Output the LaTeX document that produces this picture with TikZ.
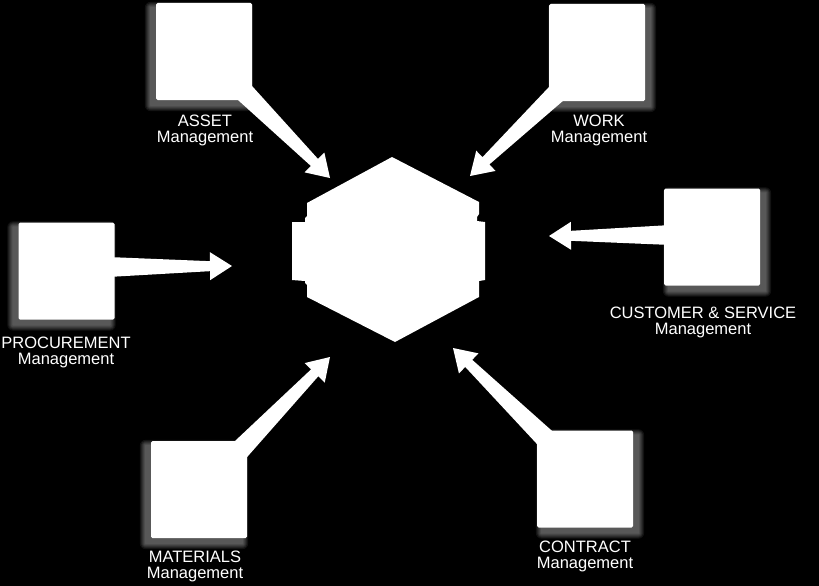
\documentclass[tikz,border=0pt]{standalone}
\usepackage{fontspec}
\setmainfont{Liberation Sans}
\usetikzlibrary{calc,positioning}

% tapered feed arrow from a foot coordinate to a tip coordinate
\newcommand{\flowarrow}[2]{%
  \fill[flow] ($(#1)!10pt!90:(#2)$)
    -- ($(#2)!22pt!(#1)!5pt!90:(#2)$)
    -- ($(#2)!22pt!(#1)!14pt!90:(#2)$)
    -- (#2)
    -- ($(#2)!22pt!(#1)!14pt!-90:(#2)$)
    -- ($(#2)!22pt!(#1)!5pt!-90:(#2)$)
    -- ($(#1)!10pt!-90:(#2)$) -- cycle;}

\begin{document}
\begin{tikzpicture}[
  x=1pt,y=-1pt,
  module/.style={fill=white,inner sep=0pt,minimum width=96pt,minimum height=97pt,rounded corners=1.5pt},
  caption/.style={text=white,font=\fontsize{16.5}{16}\selectfont,align=center,anchor=north,inner sep=0pt},
  flow/.style={fill=white},
  halo/.style={fill=white,opacity=0.07}]
  \fill[black] (0,0) rectangle (819,586);
  \useasboundingbox (0,0) rectangle (819,586);

  % central hub
  \coordinate (hub) at (393,250);
  \fill[white] (392,157) -- (479,202) -- (479,214) -- (477,217) -- (477,221)
    -- (485,222) -- (485,280) -- (479,281) -- (479,297) -- (395,342)
    -- (307,297) -- (307,285) -- (305,283) -- (305,281) -- (292,280)
    -- (292,222) -- (305,222) -- (305,218) -- (307,216) -- (307,203) -- cycle;

  \foreach \name/\cx/\cy/\gx/\lbl/\lx/\ly/\fx/\fy/\tx/\ty in {
    asset/204/51.5/-5/{ASSET\\Management}/205/115/244/92/330/178,
    work/597/52.5/5/{WORK\\Management}/599/115/558/92/470/176,
    procure/66.5/271/-5/{PROCUREMENT\\Management}/66/337/108/267/232/266,
    customer/712/237/5/{CUSTOMER \& SERVICE\\Management}/703/307/671/235/549/236,
    materials/199/489.5/-5/{MATERIALS\\Management}/195/551/240/450/330/357,
    contract/585/479/5/{CONTRACT\\Management}/585/541/545/438/453/348}
  {
    \node[module] (\name) at (\cx,\cy) {};
    \foreach \g in {1,2,...,6}
      \fill[halo,rounded corners=\g pt] ($(\name.south west)+(\gx-\g,\g+5)$)
        rectangle ($(\name.north east)+(\gx+\g,-\g+5)$);
    \node[caption] (\name-label) at (\lx,\ly) {\lbl};
    \coordinate (\name-foot) at (\fx,\fy);
    \coordinate (\name-tip) at (\tx,\ty);
    \flowarrow{\name-foot}{\name-tip}
  }
\end{tikzpicture}
\end{document}
